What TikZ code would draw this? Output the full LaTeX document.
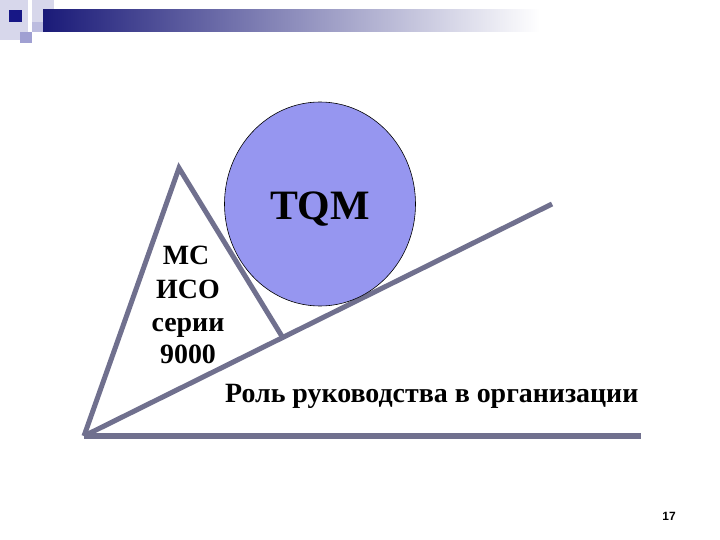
\documentclass[tikz,border=0pt]{standalone}
\usepackage{fontspec}
\setmainfont{Liberation Serif}
\newfontfamily\arialf{Liberation Sans}
\usetikzlibrary{shapes.geometric}
\definecolor{linecol}{RGB}{112,112,142}
\definecolor{ballcol}{RGB}{150,150,240}
\definecolor{navy}{RGB}{26,26,120}
\definecolor{lav}{RGB}{160,160,210}
\definecolor{palelav}{RGB}{215,215,235}
\tikzset{
  bar/.style={line width=5bp, draw=linecol, line cap=butt, line join=miter},
  lbl/.style={font=\bfseries\fontsize{28}{32}\selectfont, inner sep=0pt, anchor=base},
}
\begin{document}
\begin{tikzpicture}[x=1bp,y=-1bp]
\useasboundingbox[fill=white] (0,0) rectangle (720,540);
% header decoration
\fill[palelav] (0,0) rectangle (28,40);
\fill[palelav] (32,0) rectangle (54,22);
\shade[left color=navy, right color=white, shading angle=90] (43,10) rectangle (540,32);
\fill[navy!90!blue] (9,10) rectangle (22,22);
\fill[lav] (20,32) rectangle (32,43);
\fill[lav!70!white] (32,22) rectangle (43,32);
% lines
\coordinate (A) at (84,436);
\coordinate (T) at (179,168);
\coordinate (R) at (283,338);
\coordinate (E) at (552,204);
\coordinate (H) at (641,436);
\draw[bar] (A) -- (T) -- (R);
\draw[bar] (A) -- (E);
\draw[bar, line width=5.5bp] (A) -- (H);
% circle
\node[ellipse, draw=black, line width=0.6bp, fill=ballcol, minimum width=191bp, minimum height=204bp, inner sep=0pt] (ball) at (320,204) {};
\node[font=\bfseries\fontsize{42}{46}\selectfont, inner sep=0pt, anchor=base] (tqm) at (320,220) {TQM};
% texts
\node[lbl] (m1) at (186,265) {МС};
\node[lbl] (m2) at (188,298) {ИСО};
\node[lbl] (m3) at (188,331) {серии};
\node[lbl] (m4) at (188,363) {9000};
\node[lbl, anchor=base west] (role) at (225,402) {Роль руководства в организации};
\node[font=\arialf\bfseries\fontsize{12}{14}\selectfont, inner sep=0pt, anchor=base] (num) at (669,520) {17};
\end{tikzpicture}
\end{document}
